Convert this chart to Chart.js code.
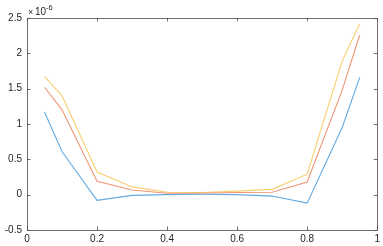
<!DOCTYPE html>
<html>
<head>
<meta charset="utf-8">
<script src="https://cdn.jsdelivr.net/npm/chart.js@4"></script>
<style>
html,body{margin:0;padding:0;background:#fff;}
#wrap{width:383px;height:246px;position:relative;}
</style>
</head>
<body>
<div id="wrap"><canvas id="c" width="383" height="246"></canvas></div>
<script>
const xValues = [0.05, 0.1, 0.2, 0.3, 0.4, 0.5, 0.6, 0.7, 0.8, 0.9, 0.95];
const seriesBlue   = [1.17, 0.61, -0.08, -0.01, 0.00, 0.005, 0.00, -0.02, -0.12, 0.95, 1.66];
const seriesRed    = [1.52, 1.20, 0.19, 0.065, 0.02, 0.02, 0.03, 0.035, 0.18, 1.48, 2.26];
const seriesYellow = [1.67, 1.40, 0.32, 0.11, 0.035, 0.03, 0.05, 0.075, 0.29, 1.89, 2.42];
const xTicks = [0, 0.2, 0.4, 0.6, 0.8, 1];
const yTicks = [-0.5, 0, 0.5, 1, 1.5, 2, 2.5];
const exponentText = '-6';

const FONT = 'Liberation Sans, Arial, Helvetica, sans-serif';
const TXT = '#262626';

function pts(ys){ return xValues.map((x,i)=>({x:x, y:ys[i]})); }

const boxPlugin = {
  id:'box',
  afterDraw(chart){
    const ctx = chart.ctx, a = chart.chartArea;
    const xs = chart.scales.x, ys = chart.scales.y;
    ctx.save();
    ctx.strokeStyle = '#4a4a4a';
    ctx.lineWidth = 0.8;
    ctx.beginPath();
    ctx.rect(Math.round(a.left)+0.5, Math.round(a.top)+0.5, Math.round(a.right-a.left), Math.round(a.bottom-a.top));
    ctx.stroke();
    const tl = 3.5;
    ctx.beginPath();
    xTicks.forEach(v=>{
      const p = Math.round(xs.getPixelForValue(v))+0.5;
      ctx.moveTo(p, a.bottom); ctx.lineTo(p, a.bottom - tl);
      ctx.moveTo(p, a.top); ctx.lineTo(p, a.top + tl);
    });
    yTicks.forEach(v=>{
      const p = Math.round(ys.getPixelForValue(v))+0.5;
      ctx.moveTo(a.left, p); ctx.lineTo(a.left + tl, p);
      ctx.moveTo(a.right, p); ctx.lineTo(a.right - tl, p);
    });
    ctx.stroke();
    // exponent label
    ctx.fillStyle = TXT;
    ctx.textBaseline = 'alphabetic';
    ctx.textAlign = 'left';
    ctx.font = '9px ' + FONT;
    ctx.fillText('\u00d7', a.left + 1, a.top - 3);
    ctx.font = '10px ' + FONT;
    ctx.fillText('10', a.left + 8, a.top - 3);
    ctx.font = '7.5px ' + FONT;
    ctx.fillText(exponentText, a.left + 19, a.top - 8);
    ctx.restore();
  }
};

const lineStyle = {borderWidth:1.1, pointRadius:0, tension:0, fill:false};

new Chart(document.getElementById('c'), {
  type:'line',
  data:{
    datasets:[
      Object.assign({data:pts(seriesBlue), borderColor:'rgb(100,170,225)'}, lineStyle),
      Object.assign({data:pts(seriesRed), borderColor:'rgb(238,150,118)'}, lineStyle),
      Object.assign({data:pts(seriesYellow), borderColor:'rgb(248,205,110)'}, lineStyle)
    ]
  },
  options:{
    responsive:false,
    animation:false,
    devicePixelRatio:1,
    layout:{padding:{top:18, right:5, left:0, bottom:0}},
    plugins:{legend:{display:false}, tooltip:{enabled:false}},
    scales:{
      x:{
        type:'linear', min:0, max:1,
        afterBuildTicks(s){ s.ticks = xTicks.map(v=>({value:v})); },
        afterFit(s){ s.height = 16; },
        grid:{display:false, drawTicks:false},
        border:{display:false},
        ticks:{padding:3, color:TXT, font:{size:10, family:FONT}, maxRotation:0, autoSkip:false,
          callback:(v)=>String(v)}
      },
      y:{
        type:'linear', min:-0.5, max:2.5,
        afterBuildTicks(s){ s.ticks = yTicks.map(v=>({value:v})); },
        afterFit(s){ s.width = 27; },
        grid:{display:false, drawTicks:false},
        border:{display:false},
        ticks:{padding:5, color:TXT, font:{size:10, family:FONT}, autoSkip:false,
          callback:(v)=>String(v)}
      }
    }
  },
  plugins:[boxPlugin]
});
</script>
</body>
</html>
